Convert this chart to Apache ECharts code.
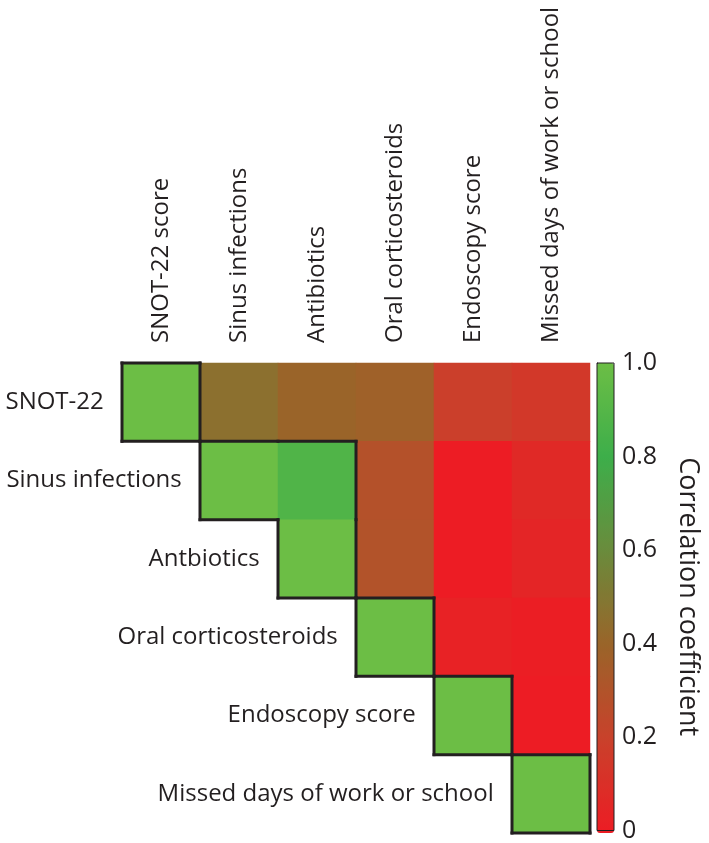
<!DOCTYPE html>
<html><head><meta charset="utf-8">
<script src="https://cdn.jsdelivr.net/npm/echarts@6/dist/echarts.min.js"></script>
<style>html,body{margin:0;padding:0;background:#fff}#c{width:709px;height:843px}</style>
</head><body><div id="c"></div>
<script>
const colLabels = ['SNOT-22 score','Sinus infections','Antibiotics','Oral corticosteroids','Endoscopy score','Missed days of work or school'];
const rowLabels = ['SNOT-22','Sinus infections','Antbiotics','Oral corticosteroids','Endoscopy score','Missed days of work or school'];
// upper-triangle correlation values, row i starts at column i
const rowSNOT = [1, 0.46, 0.40, 0.38, 0.19, 0.15];
const rowSinus = [1, 0.88, 0.29, 0.00, 0.07];
const rowAntibiotics = [1, 0.30, 0.00, 0.05];
const rowOral = [1, 0.03, 0.01];
const rowEndoscopy = [1, 0.00];
const rowMissed = [1];
const colorTicks = [0, 0.2, 0.4, 0.6, 0.8, 1.0];
// cells enclosed by the black outline [col,row]
const outlined = [[0,0],[1,1],[2,1],[2,2],[3,3],[4,4],[5,5]];

const rows = [rowSNOT,rowSinus,rowAntibiotics,rowOral,rowEndoscopy,rowMissed];
const heat = [];
rows.forEach((r,i)=>r.forEach((v,k)=>{
  const j=i+k;
  const item={value:[j,i,v]};
  if(i===j) item.label={show:true};
  heat.push(item);
}));
const inSet=(c,r)=>outlined.some(p=>p[0]===c&&p[1]===r);
const FONT='"Open Sans", sans-serif';
const TXT='#231F20';

const chart = echarts.init(document.getElementById('c'));
chart.setOption({
  animation:false,
  grid:[
    {left:122, top:363, width:468, height:470},
    {left:597, top:363, width:17, height:470, show:true, borderColor:TXT, borderWidth:1, backgroundColor:'transparent', z:6}
  ],
  xAxis:[
    {type:'category', gridIndex:0, data:colLabels, position:'top',
     axisLine:{show:false}, axisTick:{show:false}, splitLine:{show:false},
     axisLabel:{rotate:-90, margin:20, fontSize:24, fontFamily:FONT, color:TXT}},
    {type:'value', gridIndex:1, show:false}
  ],
  yAxis:[
    {type:'category', gridIndex:0, data:rowLabels, inverse:true,
     axisLine:{show:false}, axisTick:{show:false}, axisLabel:{show:false}, splitLine:{show:false}},
    {type:'value', gridIndex:1, min:0, max:1, interval:0.2, position:'right',
     axisLine:{show:true, lineStyle:{color:TXT, width:1}},
     axisTick:{show:true, length:4, lineStyle:{color:TXT}},
     minorTick:{show:true, splitNumber:2, length:4, lineStyle:{color:TXT}},
     splitLine:{show:false},
     axisLabel:{margin:8, fontSize:25, fontFamily:FONT, color:TXT,
       formatter:v=>v===0?'0':v.toFixed(1)},
     name:'Correlation coefficient', nameLocation:'middle', nameRotate:-90, nameGap:60,
     nameTextStyle:{fontSize:27, fontFamily:FONT, color:TXT}}
  ],
  visualMap:{
    type:'continuous', min:0, max:1, calculable:false, seriesIndex:0,
    orient:'vertical', left:597, top:363, itemWidth:17, itemHeight:470,
    padding:0, text:['',''], showLabel:false, z:4,
    inRange:{color:['#ED1C24','#C9412B','#9A6429','#6A8B3C','#3DAE4A','#6CBE45']}
  },
  series:[
    {type:'heatmap', xAxisIndex:0, yAxisIndex:0, data:heat,
     label:{show:false, position:'left', distance:18, fontSize:24, fontFamily:FONT, color:TXT,
       formatter:p=>rowLabels[p.value[1]]},
     emphasis:{disabled:true}},
    {type:'custom', xAxisIndex:0, yAxisIndex:0, data:outlined, z:10, silent:true,
     renderItem:(params, api)=>{
       const c=api.value(0), r=api.value(1);
       const p=api.coord([c,r]); const s=api.size([1,1]);
       const x0=p[0]-s[0]/2, x1=p[0]+s[0]/2, y0=p[1]-s[1]/2, y1=p[1]+s[1]/2;
       const st={stroke:TXT, lineWidth:3, lineCap:'square'};
       const ch=[];
       if(!inSet(c,r-1)) ch.push({type:'line',shape:{x1:x0,y1:y0,x2:x1,y2:y0},style:st});
       if(!inSet(c,r+1)) ch.push({type:'line',shape:{x1:x0,y1:y1,x2:x1,y2:y1},style:st});
       if(!inSet(c-1,r)) ch.push({type:'line',shape:{x1:x0,y1:y0,x2:x0,y2:y1},style:st});
       if(!inSet(c+1,r)) ch.push({type:'line',shape:{x1:x1,y1:y0,x2:x1,y2:y1},style:st});
       return {type:'group', children:ch};
     }}
  ]
});
</script></body></html>
